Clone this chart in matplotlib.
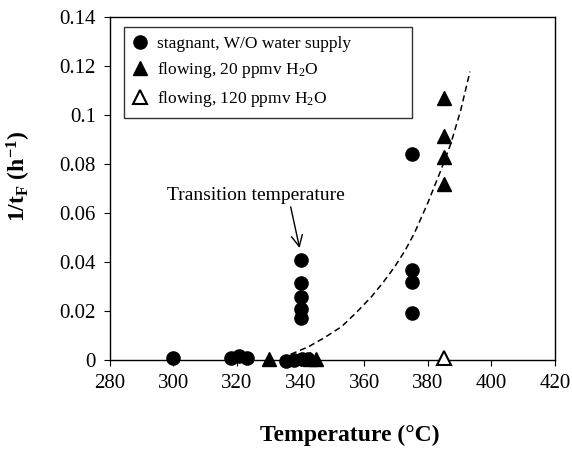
import matplotlib.pyplot as plt

plt.rcParams['font.family'] = 'Liberation Serif'
plt.rcParams['mathtext.fontset'] = 'custom'
plt.rcParams['mathtext.rm'] = 'Liberation Serif'
plt.rcParams['mathtext.it'] = 'Liberation Serif:italic'
plt.rcParams['mathtext.bf'] = 'Liberation Serif:bold'

# data
stag_T = [300, 318, 320.5, 323, 335.5, 338, 340.5, 342.5,
          340, 340, 340, 340, 340, 375, 375, 375, 375]
stag_y = [0.001, 0.001, 0.0015, 0.001, -0.0003, 0.0, 0.0002, 0.0003,
          0.0408, 0.0316, 0.0258, 0.0208, 0.0171, 0.084, 0.0367, 0.032, 0.0192]

flow20_T = [330, 343, 345, 385, 385, 385, 385]
flow20_y = [0.0005, 0.0005, 0.0005, 0.107, 0.0914, 0.083, 0.072]

flow120_T = [385]
flow120_y = [0.001]

# dashed trend curve
curve_T = [334, 336.3, 342.5, 347.5, 352.9, 357.5, 362.3, 366, 369.6, 372.8,
           375.8, 380.0, 384.2, 387.3, 390.4, 393.3]
curve_y = [0.001, 0.002, 0.0054, 0.0091, 0.0136, 0.0193, 0.0258, 0.0317, 0.038, 0.0445,
           0.0517, 0.064, 0.0776, 0.0884, 0.102, 0.1177]

xticks = [280, 300, 320, 340, 360, 380, 400, 420]
yticks = [0, 0.02, 0.04, 0.06, 0.08, 0.1, 0.12, 0.14]
ytick_labels = ['0', '0.02', '0.04', '0.06', '0.08', '0.1', '0.12', '0.14']

fig = plt.figure(figsize=(5.72, 4.58), dpi=100)
ax = fig.add_axes([0.192, 0.214, 0.778, 0.749])

ax.plot(curve_T, curve_y, ls=(0, (4, 2.5)), lw=1.1, c='black', zorder=1)

ax.plot(stag_T, stag_y, 'o', ms=9.5, c='black', ls='none', clip_on=False, zorder=3,
        label='stagnant, W/O water supply')
ax.plot(flow20_T, flow20_y, '^', ms=10, c='black', ls='none', clip_on=False, zorder=3,
        label='flowing, 20 ppmv H$_2$O')
ax.plot(flow120_T, flow120_y, '^', ms=10, mfc='white', mec='black', mew=1.5, ls='none',
        clip_on=False, zorder=3, label='flowing, 120 ppmv H$_2$O')

ax.set_xlim(280, 420)
ax.set_ylim(0, 0.14)
ax.set_xticks(xticks)
ax.set_yticks(yticks)
ax.set_yticklabels(ytick_labels)
ax.tick_params(labelsize=15, direction='out', length=4, width=0.8, pad=6)
for side in ['bottom', 'top', 'left', 'right']:
    ax.spines[side].set_linewidth(1.0)

# transition temperature note
ax.text(326, 0.0673, 'Transition temperature', ha='center', va='center', fontsize=14)
ax.annotate('', xy=(339.7, 0.0457), xytext=(336.9, 0.0625),
            arrowprops=dict(arrowstyle='->', color='black', lw=1.0,
                            shrinkA=0, shrinkB=0, mutation_scale=20))

ax.set_xlabel('Temperature (°C)', fontsize=17, fontweight='bold')
ax.xaxis.set_label_coords(0.539, -0.19)
ax.set_ylabel(r'1/t$_\mathbf{F}$ (h$^\mathbf{-1}$)', fontsize=17, fontweight='bold')
ax.yaxis.set_label_coords(-0.172, 0.534)

leg = ax.legend(loc='upper left', bbox_to_anchor=(0.031, 0.971 - 0.257, 0.648, 0.257),
                mode='expand', fontsize=12.5, frameon=True, fancybox=False,
                edgecolor='black', handlelength=0.9, handletextpad=0.5,
                labelspacing=0.5, borderpad=0.5, borderaxespad=0)
leg.get_frame().set_linewidth(1.0)

plt.savefig('out.png', dpi=100)
plt.close('all')
